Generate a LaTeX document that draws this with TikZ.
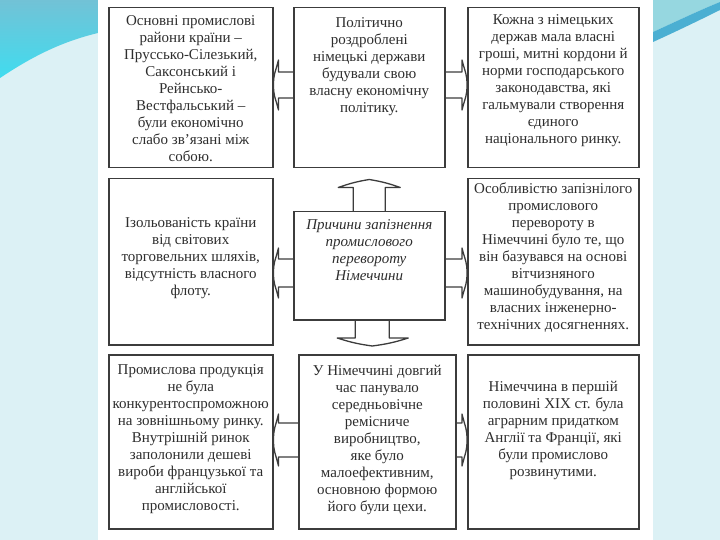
\documentclass[tikz,border=0pt]{standalone}
\usepackage{fontspec}
\setmainfont{Liberation Serif}
\usetikzlibrary{calc}
\definecolor{bgcyan}{HTML}{DCF1F5}
\definecolor{wavetop}{HTML}{72C2D6}
\definecolor{wavebot}{HTML}{40DCEF}
\definecolor{wavelight}{HTML}{96D7E0}
\definecolor{waveblue}{HTML}{4BAFD2}
\definecolor{boxgray}{HTML}{3C3C3C}
\definecolor{txtgray}{HTML}{2E2E2E}
\newcommand\myArrowL[5]{%
 \coordinate (ya) at (0,#3-#4); \coordinate (yb) at (0,#3+#4);
 \coordinate (yc) at (0,#3);
 \coordinate (yd) at (0,#3-#5); \coordinate (ye) at (0,#3+#5);
 \coordinate (yf) at (0,#3-#5*0.45); \coordinate (yg) at (0,#3+#5*0.45);
 \coordinate (bx) at ([xshift=5pt]#1.east); \coordinate (cx) at ([xshift=1.5pt]#1.east);
 \draw[conn] (#2.west |- ya) -- (bx |- ya) -- (bx |- yd)
   .. controls (cx |- yf) and (#1.east |- yf) .. (#1.east |- yc)
   .. controls (#1.east |- yg) and (cx |- yg) .. (bx |- ye) -- (bx |- yb) -- (#2.west |- yb);}
\newcommand\myArrowR[5]{%
 \coordinate (ya) at (0,#3-#4); \coordinate (yb) at (0,#3+#4);
 \coordinate (yc) at (0,#3);
 \coordinate (yd) at (0,#3-#5); \coordinate (ye) at (0,#3+#5);
 \coordinate (yf) at (0,#3-#5*0.45); \coordinate (yg) at (0,#3+#5*0.45);
 \coordinate (bx) at ([xshift=-5pt]#1.west); \coordinate (cx) at ([xshift=-1.5pt]#1.west);
 \draw[conn] (#2.east |- ya) -- (bx |- ya) -- (bx |- yd)
   .. controls (cx |- yf) and (#1.west |- yf) .. (#1.west |- yc)
   .. controls (#1.west |- yg) and (cx |- yg) .. (bx |- ye) -- (bx |- yb) -- (#2.east |- yb);}
\begin{document}
\begin{tikzpicture}[x=1pt,y=-1pt,
  box/.style={draw=boxgray, line width=1.5pt, rectangle, inner sep=0pt, anchor=north west},
  txt/.style={align=center, font=\fontsize{15}{17}\selectfont, inner sep=0pt, text=txtgray},
  conn/.style={draw=boxgray, line width=1.3pt, line join=round}]
\useasboundingbox (0,0) rectangle (720,540);
\fill[bgcyan] (0,0) rectangle (720,540);
\fill[white] (98,0) rectangle (653,540);
\shade[top color=wavetop, bottom color=wavebot] (0,0) -- (98,0) -- (98,33) .. controls (60,42) and (30,58) .. (0,78) -- cycle;
\fill[wavelight] (653,0) -- (720,0) -- (720,2) .. controls (700,10) and (675,22) .. (653,32) -- cycle;
\fill[waveblue] (653,32) .. controls (675,22) and (700,10) .. (720,2) -- (720,10) .. controls (700,20) and (675,32) .. (653,42) -- cycle;

% boxes
\node[box, minimum width=164pt, minimum height=160pt] (l1) at (108,7) {};
\node[box, minimum width=151pt, minimum height=160pt] (m1) at (293,7) {};
\node[box, minimum width=171pt, minimum height=160pt] (r1) at (467,7) {};
\node[box, minimum width=164pt, minimum height=166pt] (l2) at (108,178) {};
\node[box, minimum width=151pt, minimum height=108pt] (c2) at (293,211) {};
\node[box, minimum width=171pt, minimum height=166pt] (r2) at (467,178) {};
\node[box, minimum width=164pt, minimum height=174pt] (l3) at (108,354) {};
\node[box, minimum width=157pt, minimum height=174pt] (m3) at (298,354) {};
\node[box, minimum width=171pt, minimum height=174pt] (r3) at (467,354) {};

% texts
\node[txt, anchor=north] (tl1) at ($(l1.north)+(0,8)$) {Основні промислові\\райони країни –\\Пруссько-Сілезький,\\Саксонський і\\Рейнсько-\\Вестфальський –\\були економічно\\слабо зв’язані між\\собою.};
\node[txt, anchor=north] (tm1) at ($(m1.north)+(0,10)$) {Політично\\роздроблені\\німецькі держави\\будували свою\\власну економічну\\політику.};
\node[txt, anchor=north] (tr1) at ($(r1.north)+(0,7)$) {Кожна з німецьких\\держав мала власні\\гроші, митні кордони й\\норми господарського\\законодавства, які\\гальмували створення\\єдиного\\національного ринку.};
\node[txt] (tl2) at ($(l2.center)+(0,-4)$) {Ізольованість країни\\від світових\\торговельних шляхів,\\відсутність власного\\флоту.};
\node[txt, anchor=north, font=\fontsize{15}{17}\selectfont\itshape] (tc2) at ($(c2.north)+(0,8)$) {Причини запізнення\\промислового\\перевороту\\Німеччини};
\node[txt] (tr2) at ($(r2.center)+(0,-4)$) {Особливістю запізнілого\\промислового\\перевороту в\\Німеччині було те, що\\він базувався на основі\\вітчизняного\\машинобудування, на\\власних інженерно-\\технічних досягненнях.};
\node[txt] (tl3) at ($(l3.center)+(0,-3)$) {Промислова продукція\\не була\\конкурентоспроможною\\на зовнішньому ринку.\\Внутрішній ринок\\заполонили дешеві\\вироби французької та\\англійської\\промисловості.};
\node[txt] (tm3) at ($(m3.center)+(0,-2)$) {У Німеччині довгий\\час панувало\\середньовічне\\ремісниче\\виробництво,\\яке було\\малоефективним,\\основною формою\\його були цехи.};
\node[txt] (tr3) at ($(r3.center)+(0,-11)$) {Німеччина в першій\\половині XIX ст. була\\аграрним придатком\\Англії та Франції, які\\були промислово\\розвинутими.};

% horizontal connectors
\myArrowL{l1}{m1}{85}{13}{25}
\myArrowR{r1}{m1}{85}{13}{25}
\myArrowL{l2}{c2}{273}{14}{25}
\myArrowR{r2}{c2}{273}{14}{25}
\myArrowL{l3}{m3}{440}{17}{26}
\myArrowR{r3}{m3}{440}{17}{26}

% up arrow
\coordinate (upapex) at ([yshift=-11pt]m1.south);
\coordinate (upbase) at ([yshift=-19pt]m1.south);
\coordinate (us1) at ([xshift=-16pt]c2.north);
\coordinate (us2) at ([xshift=16pt]c2.north);
\coordinate (uh1) at ([xshift=-31pt]c2.north);
\coordinate (uh2) at ([xshift=31pt]c2.north);
\draw[conn] (us1) -- (us1 |- upbase) -- (uh1 |- upbase) to[bend left=5] (c2.north |- upapex)
  to[bend left=5] (uh2 |- upbase) -- (us2 |- upbase) -- (us2);

% down arrow
\coordinate (dnapex) at ([yshift=8pt]m3.north);
\coordinate (dnbase) at ([yshift=16pt]m3.north);
\coordinate (ds1) at ([xshift=-14pt]c2.south);
\coordinate (ds2) at ([xshift=20pt]c2.south);
\coordinate (dh1) at ([xshift=-32pt]c2.south);
\coordinate (dh2) at ([xshift=39pt]c2.south);
\coordinate (dtip) at ([xshift=3pt]c2.south);
\draw[conn] (ds1) -- (ds1 |- dnbase) -- (dh1 |- dnbase) to[bend right=5] (dtip |- dnapex)
  to[bend right=5] (dh2 |- dnbase) -- (ds2 |- dnbase) -- (ds2);
\end{tikzpicture}
\end{document}
